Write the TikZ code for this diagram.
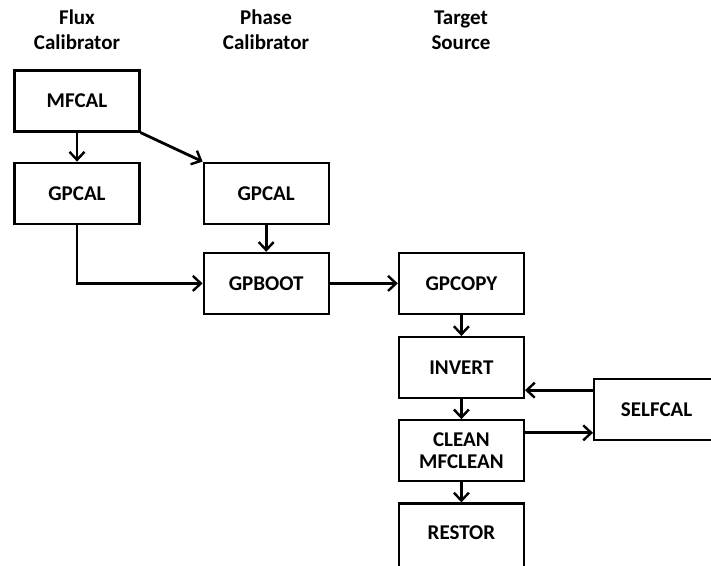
\documentclass[tikz,border=0pt]{standalone}
\usepackage{fontspec}
\setmainfont{Carlito}
\usetikzlibrary{arrows.meta,positioning,calc}
\tikzstyle{box} = [draw, line width=2.2pt, minimum width=125pt, minimum height=61pt,
                   inner sep=2pt, align=center, font=\fontsize{21}{24}\selectfont\bfseries]
\tikzstyle{head} = [align=center, font=\fontsize{21}{25}\selectfont\bfseries]
\tikzstyle{arrow} = [line width=2.8pt,->,>={Straight Barb[length=8pt,width=15pt,line width=2.4pt]}]

\begin{document}
\begin{tikzpicture}[x=1pt,y=-1pt]
  \useasboundingbox (0,0) rectangle (711,565);
  \clip (0,0) rectangle (711,565);

  % column headings
  \node [head] (fluxhead) at (77,30) {Flux\\Calibrator};
  \node [head] (phasehead) at (266,30) {Phase\\Calibrator};
  \node [head] (targethead) at (461,30) {Target\\Source};

  % calibrator boxes
  \node [box] (mfcal) at (77,101) {MFCAL};
  \node [box, below=29pt of mfcal] (gpcal1) {GPCAL};
  \node [box, right=62pt of gpcal1] (gpcal2) {GPCAL};
  \node [box, below=27pt of gpcal2] (gpboot) {GPBOOT};

  % target source boxes
  \node [box, right=68pt of gpboot] (gpcopy) {GPCOPY};
  \node [box, below=21pt of gpcopy] (invert) {INVERT};
  \node [box, below=20pt of invert] (clean) {CLEAN\\[-2pt]MFCLEAN};
  \node [box, below=20pt of clean, minimum height=70pt, text depth=11pt] (restor) {RESTOR};
  \node [box, anchor=west] (selfcal) at ([xshift=68pt]$(invert.east)!0.5!(clean.east)$) {SELFCAL};

  % connectors
  \draw [arrow] (mfcal) -- (gpcal1);
  \draw [arrow] (mfcal.south east) -- (gpcal2.north west);
  \draw [arrow] (gpcal2) -- (gpboot);
  \draw [arrow] (gpcal1.south) |- (gpboot.west);
  \draw [arrow] (gpboot) -- (gpcopy);
  \draw [arrow] (gpcopy) -- (invert);
  \draw [arrow] (invert) -- (clean);
  \draw [arrow] (clean) -- (restor);
  \draw [arrow] ([yshift=19pt]selfcal.west) -- ([yshift=19pt]selfcal.west -| invert.east);
  \draw [arrow] ([yshift=18pt]clean.east) -- ([yshift=18pt]clean.east -| selfcal.west);
\end{tikzpicture}
\end{document}
